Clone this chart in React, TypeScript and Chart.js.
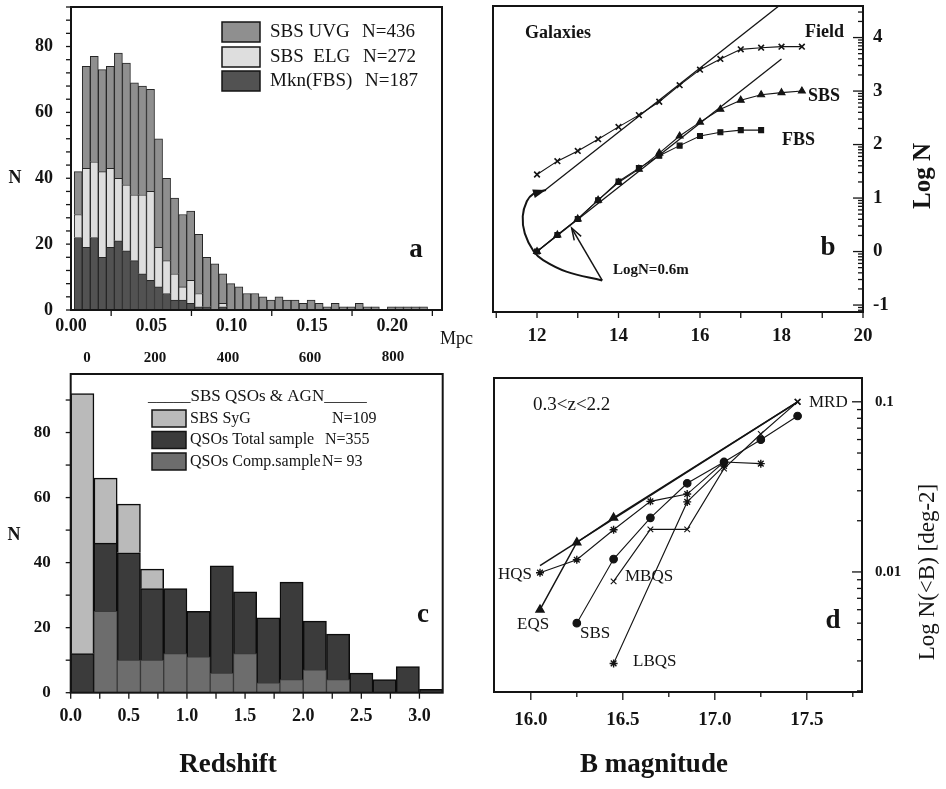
import { useEffect, useRef } from 'react';
import { Chart, registerables } from 'chart.js';

Chart.register(...registerables);

const SERIF = '"Liberation Serif", "Times New Roman", Times, serif';
const INK = '#141414';
Chart.defaults.font.family = SERIF;
Chart.defaults.color = INK;

// ================= Panel a : galaxies vs redshift =================
const zBinsA = [0.0045, 0.0095, 0.0145, 0.0195, 0.0245, 0.0295, 0.0345, 0.0395, 0.0445, 0.0495, 0.0545, 0.0595, 0.0645, 0.0695, 0.0745, 0.0795, 0.0845, 0.0895, 0.0945, 0.0995, 0.1045, 0.1095, 0.1145, 0.1195, 0.1245, 0.1295, 0.1345, 0.1395, 0.1445, 0.1495, 0.1545, 0.1595, 0.1645, 0.1695, 0.1745, 0.1795, 0.1845, 0.1895, 0.1945, 0.1995, 0.2045, 0.2095, 0.2145, 0.2195];
const mknA = [22, 19, 22, 16, 19, 21, 18, 15, 11, 9, 7, 5, 3, 3, 2, 1, 1, 0, 1, 0, 0, 0, 0, 0, 0, 0, 0, 0, 0, 0, 0, 0, 0, 0, 0, 0, 0, 0, 0, 0, 0, 0, 0, 0];
const elgA = [7, 24, 23, 26, 24, 19, 20, 20, 24, 27, 12, 10, 8, 4, 7, 4, 0, 0, 1, 0, 0, 0, 0, 0, 0, 0, 0, 0, 0, 0, 0, 0, 0, 0, 0, 0, 0, 0, 0, 0, 0, 0, 0, 0];
const uvgA = [13, 31, 32, 31, 31, 38, 37, 34, 33, 31, 33, 25, 23, 22, 21, 18, 15, 14, 9, 8, 7, 5, 5, 4, 3, 4, 3, 3, 2, 3, 2, 1, 2, 1, 1, 2, 1, 1, 0, 1, 1, 1, 1, 1];
const zTicksA = [0, 0.05, 0.1, 0.15, 0.2];
const zTickLabelsA = ['0.00', '0.05', '0.10', '0.15', '0.20'];
const nTicksA = [0, 20, 40, 60, 80];
const nTickLabelsA = ['0', '20', '40', '60', '80'];
const mpcLabelsA = ['0', '200', '400', '600', '800'];
const legendNamesA = ['SBS UVG', 'SBS  ELG', 'Mkn(FBS)'];
const legendCountsA = ['N=436', 'N=272', 'N=187'];

// ================= Panel b : galaxy counts =================
const magsB = [12, 12.5, 13, 13.5, 14, 14.5, 15, 15.5, 16, 16.5, 17, 17.5, 18, 18.5];
const fieldLogN = [1.44, 1.69, 1.88, 2.1, 2.33, 2.55, 2.8, 3.11, 3.4, 3.6, 3.78, 3.81, 3.83, 3.83];
const sbsLogN = [0.0, 0.31, 0.61, 0.96, 1.29, 1.54, 1.84, 2.16, 2.42, 2.66, 2.83, 2.93, 2.97, 3.0];
const fbsLogN = [0.0, 0.31, 0.61, 0.96, 1.31, 1.56, 1.79, 1.98, 2.16, 2.23, 2.27, 2.27];
const upperSlopeM = [12.2, 18.0];
const upperSlopeLogN = [1.15, 4.63];
const lowerSlopeM = [12.0, 18.0];
const lowerSlopeLogN = [0.0, 3.6];
const curveArrowM = [13.6, 12.72, 12.15, 11.92, 11.7, 11.65, 11.75, 11.91, 12.22];
const curveArrowLogN = [-0.54, -0.375, -0.16, 0.0, 0.34, 0.66, 0.94, 1.08, 1.15];
const straightArrowM = [13.6, 12.85];
const straightArrowLogN = [-0.54, 0.44];
const magTicksB = [12, 14, 16, 18, 20];
const magTickLabelsB = ['12', '14', '16', '18', '20'];
const logTicksB = [-1, 0, 1, 2, 3, 4];
const logTickLabelsB = ['-1', '0', '1', '2', '3', '4'];

// ================= Panel c : QSOs & AGN vs redshift =================
const zBinsC = [0.1, 0.3, 0.5, 0.7, 0.9, 1.1, 1.3, 1.5, 1.7, 1.9, 2.1, 2.3, 2.5, 2.7, 2.9, 3.1];
const qsoTotalC = [12, 46, 43, 32, 32, 25, 39, 31, 23, 34, 22, 18, 6, 4, 8, 1];
const sygC = [80, 20, 15, 6, 0, 0, 0, 0, 0, 0, 0, 0, 0, 0, 0, 0];
const qsoCompC = [0, 25, 10, 10, 12, 11, 6, 12, 3, 4, 7, 4, 0, 0, 0, 0];
const zTicksC = [0, 0.5, 1, 1.5, 2, 2.5, 3];
const zTickLabelsC = ['0.0', '0.5', '1.0', '1.5', '2.0', '2.5', '3.0'];
const nTicksC = [0, 20, 40, 60, 80];
const nTickLabelsC = ['0', '20', '40', '60', '80'];
const legendTitleC = '_____SBS QSOs & AGN_____';
const legendNamesC = ['SBS SyG', 'QSOs Total sample', 'QSOs Comp.sample'];
const legendCountsC = ['N=109', 'N=355', 'N= 93'];

// ================= Panel d : QSO counts =================
const magsD = [16.05, 16.25, 16.45, 16.65, 16.85, 17.05, 17.25, 17.45];
const hqsD = [0.0099, 0.0118, 0.0177, 0.026, 0.0287, 0.0443, 0.0433, null];
const eqsD = [0.006, 0.0149, 0.0208, null, null, null, null, 0.1];
const sbsD = [null, 0.005, 0.0119, 0.0208, 0.0332, 0.0443, 0.0599, 0.0825];
const mbqsD = [null, null, 0.0088, 0.0178, 0.0178, 0.0405, 0.0647, 0.1];
const lbqsD = [null, null, 0.0029, null, 0.0258, 0.042, null, null];
const mrdD = [0.0109, null, null, null, null, null, null, 0.1];
const magTicksD = [16, 16.5, 17, 17.5];
const magTickLabelsD = ['16.0', '16.5', '17.0', '17.5'];
const densTicksD = [0.01, 0.1];
const densTickLabelsD = ['0.01', '0.1'];

// ================= colours =================
const COL = {
  uvg: '#8f8f8f', elg: '#dedede', mkn: '#525252',
  syg: '#bababa', total: '#3b3b3b', comp: '#6d6d6d',
};

type TextItem = { t: string; x: number; y: number; size: number; bold?: boolean; align?: CanvasTextAlign; rot?: number };
type TickSet = { axis: string; side: 'bottom' | 'left' | 'right'; values: number[]; len: number; inward?: boolean };
type LegendRow = { color: string; name: string; count: string; countX: number };
type Legend = { x: number; w: number; h: number; ys: number[]; textX: number; size: number; rows: LegendRow[]; border: number };
type Arrow = { from: [number, number]; to: [number, number]; len: number; half: number; filled: boolean };
type Decor = { ox: number; oy: number; frame: number; ticks: TickSet[]; texts: TextItem[]; legend?: Legend; arrows?: Arrow[] };

function makeDecor(d: Decor) {
  return {
    id: 'decor',
    afterDraw(chart: any) {
      const { ctx, chartArea: a, scales } = chart;
      ctx.save();
      ctx.strokeStyle = INK;
      ctx.lineWidth = 1.3;
      for (const ts of d.ticks) {
        const s = scales[ts.axis];
        for (const v of ts.values) {
          const p = s.getPixelForValue(v);
          ctx.beginPath();
          if (ts.side === 'bottom') {
            ctx.moveTo(p, a.bottom);
            ctx.lineTo(p, a.bottom + (ts.inward ? -ts.len : ts.len));
          } else if (ts.side === 'left') {
            ctx.moveTo(a.left, p);
            ctx.lineTo(a.left + (ts.inward ? ts.len : -ts.len), p);
          } else {
            ctx.moveTo(a.right, p);
            ctx.lineTo(a.right + (ts.inward ? -ts.len : ts.len), p);
          }
          ctx.stroke();
        }
      }
      ctx.lineWidth = d.frame;
      ctx.strokeRect(a.left, a.top, a.right - a.left, a.bottom - a.top);

      if (d.arrows) {
        for (const ar of d.arrows) {
          const x1 = scales.x.getPixelForValue(ar.from[0]);
          const y1 = scales.y.getPixelForValue(ar.from[1]);
          const x2 = scales.x.getPixelForValue(ar.to[0]);
          const y2 = scales.y.getPixelForValue(ar.to[1]);
          const L = Math.hypot(x2 - x1, y2 - y1) || 1;
          const ux = (x2 - x1) / L, uy = (y2 - y1) / L;
          const bx = x2 - ux * ar.len, by = y2 - uy * ar.len;
          ctx.beginPath();
          ctx.moveTo(bx - uy * ar.half, by + ux * ar.half);
          ctx.lineTo(x2, y2);
          ctx.lineTo(bx + uy * ar.half, by - ux * ar.half);
          if (ar.filled) {
            ctx.closePath();
            ctx.fillStyle = INK;
            ctx.fill();
          } else {
            ctx.lineWidth = 1.5;
            ctx.stroke();
          }
        }
      }

      if (d.legend) {
        const L = d.legend;
        L.rows.forEach((r, i) => {
          const cy = L.ys[i] - d.oy;
          const x = L.x - d.ox;
          ctx.fillStyle = r.color;
          ctx.fillRect(x, cy - L.h / 2, L.w, L.h);
          ctx.lineWidth = L.border;
          ctx.strokeStyle = INK;
          ctx.strokeRect(x, cy - L.h / 2, L.w, L.h);
          ctx.fillStyle = INK;
          ctx.font = `${L.size}px ${SERIF}`;
          ctx.textAlign = 'left';
          ctx.textBaseline = 'middle';
          ctx.fillText(r.name, L.textX - d.ox, cy);
          ctx.fillText(r.count, r.countX - d.ox, cy);
        });
      }

      ctx.fillStyle = INK;
      for (const t of d.texts) {
        ctx.save();
        ctx.font = `${t.bold ? 'bold ' : ''}${t.size}px ${SERIF}`;
        ctx.textAlign = t.align || 'left';
        ctx.textBaseline = 'middle';
        ctx.translate(t.x - d.ox, t.y - d.oy);
        if (t.rot) ctx.rotate(t.rot);
        ctx.fillText(t.t, 0, 0);
        ctx.restore();
      }
      ctx.restore();
    },
  };
}

type AxisArgs = {
  type?: string; position: string; min: number; max: number; ticks: number[]; labels: string[];
  size: number; padding: number; fontSize: number; stacked?: boolean;
};
function axis(o: AxisArgs) {
  return {
    type: o.type || 'linear',
    position: o.position,
    min: o.min,
    max: o.max,
    stacked: o.stacked,
    offset: false,
    grid: { display: false, drawTicks: false },
    border: { display: false },
    afterBuildTicks: (s: any) => {
      s.ticks = o.ticks.map((v) => ({ value: v }));
    },
    afterFit: (s: any) => {
      if (s.isHorizontal()) s.height = o.size;
      else s.width = o.size;
      s.paddingTop = 0; s.paddingBottom = 0; s.paddingLeft = 0; s.paddingRight = 0;
    },
    ticks: {
      autoSkip: false, maxRotation: 0, minRotation: 0, padding: o.padding, color: INK,
      font: { family: SERIF, size: o.fontSize, weight: 'bold' },
      callback: (_v: any, i: number) => o.labels[i],
    },
  };
}

function baseOptions(padding: any, scales: any) {
  return {
    responsive: false,
    animation: false,
    devicePixelRatio: 1,
    events: [],
    layout: { padding },
    plugins: { legend: { display: false }, tooltip: { enabled: false }, title: { display: false } },
    scales,
  };
}

const pts = (xs: number[], ys: (number | null)[]) =>
  xs.map((x, i) => ({ x, y: ys[i] })).filter((p) => p.y !== null && p.y !== undefined);

// ---------- panel a config ----------
const boxA = { left: 0, top: 0, w: 480, h: 372 };
function configA() {
  const mk = (label: string, vals: number[], color: string) => ({
    type: 'bar', label,
    data: zBinsA.map((x, i) => ({ x, y: vals[i] > 0 ? vals[i] : null })),
    backgroundColor: color, borderColor: '#262626', borderWidth: 1,
    grouped: false, barPercentage: 1, categoryPercentage: 1, stack: 'a',
  });
  const yMinor: number[] = [];
  for (let v = 0; v <= 92; v += 4) yMinor.push(v);
  return {
    type: 'bar',
    data: { datasets: [mk('Mkn(FBS)', mknA, COL.mkn), mk('SBS ELG', elgA, COL.elg), mk('SBS UVG', uvgA, COL.uvg)] },
    options: baseOptions({ left: 0, top: 7, right: 38, bottom: 0 }, {
      x: axis({ position: 'bottom', min: 0, max: 0.231, ticks: zTicksA, labels: zTickLabelsA, size: 62, padding: 6, fontSize: 18 }),
      y: axis({ position: 'left', min: 0, max: 92, ticks: nTicksA, labels: nTickLabelsA, size: 71, padding: 18, fontSize: 18, stacked: true }),
    }),
    plugins: [makeDecor({
      ox: boxA.left, oy: boxA.top, frame: 2,
      ticks: [
        { axis: 'x', side: 'bottom', values: [0.025, 0.075, 0.125, 0.175, 0.225], len: 6 },
        { axis: 'y', side: 'left', values: yMinor, len: 5 },
      ],
      legend: {
        x: 222, w: 38, h: 20, ys: [32, 57, 81], textX: 270, size: 19, border: 1.5,
        rows: [
          { color: COL.uvg, name: legendNamesA[0], count: legendCountsA[0], countX: 362 },
          { color: COL.elg, name: legendNamesA[1], count: legendCountsA[1], countX: 363 },
          { color: COL.mkn, name: legendNamesA[2], count: legendCountsA[2], countX: 365 },
        ],
      },
      texts: [
        { t: 'N', x: 15, y: 178, size: 18, bold: true, align: 'center' },
        { t: 'a', x: 416, y: 250, size: 27, bold: true, align: 'center' },
        { t: 'Mpc', x: 440, y: 339, size: 18, align: 'left' },
        { t: mpcLabelsA[0], x: 87, y: 358, size: 15, bold: true, align: 'center' },
        { t: mpcLabelsA[1], x: 155, y: 358, size: 15, bold: true, align: 'center' },
        { t: mpcLabelsA[2], x: 228, y: 358, size: 15, bold: true, align: 'center' },
        { t: mpcLabelsA[3], x: 310, y: 358, size: 15, bold: true, align: 'center' },
        { t: mpcLabelsA[4], x: 393, y: 357, size: 15, bold: true, align: 'center' },
      ],
    })],
  };
}

// ---------- panel b config ----------
const boxB = { left: 470, top: 0, w: 476, h: 372 };
function configB() {
  const line = { borderColor: INK, backgroundColor: INK, borderWidth: 1.1, pointBorderColor: INK, pointBackgroundColor: INK };
  const xMinor: number[] = [];
  for (let v = 11; v <= 20; v += 1) xMinor.push(v);
  const yMinor: number[] = [];
  for (let k = -2; k <= 4; k++) for (let j = 2; j <= 9; j++) {
    const v = k + Math.log10(j);
    if (v > -1.13 && v < 4.59) yMinor.push(v);
  }
  const nC = curveArrowM.length;
  return {
    type: 'line',
    data: {
      datasets: [
        { ...line, label: 'Field', data: pts(magsB, fieldLogN), pointStyle: 'crossRot', pointRadius: 4, pointBorderWidth: 1.6 },
        { ...line, label: 'SBS', data: pts(magsB, sbsLogN), pointStyle: 'triangle', pointRadius: 4 },
        { ...line, label: 'FBS', data: pts(magsB, fbsLogN), pointStyle: 'rect', pointRadius: 3.5 },
        { ...line, label: 'slope upper', data: pts(upperSlopeM, upperSlopeLogN), pointRadius: 0, borderWidth: 1.3 },
        { ...line, label: 'slope lower', data: pts(lowerSlopeM, lowerSlopeLogN), pointRadius: 0, borderWidth: 1.3 },
        { ...line, label: 'curve arrow', data: pts(curveArrowM, curveArrowLogN), tension: 0.4, borderWidth: 2, pointRadius: 0 },
        { ...line, label: 'straight arrow', data: pts(straightArrowM, straightArrowLogN), borderWidth: 1.5, pointRadius: 0 },
      ],
    },
    options: baseOptions({ left: 23, top: 6, right: 0, bottom: 0 }, {
      x: axis({ position: 'bottom', min: 10.92, max: 20, ticks: magTicksB, labels: magTickLabelsB, size: 60, padding: 13, fontSize: 19 }),
      y: axis({ position: 'right', min: -1.13, max: 4.59, ticks: logTicksB, labels: logTickLabelsB, size: 83, padding: 10, fontSize: 19 }),
    }),
    plugins: [makeDecor({
      ox: boxB.left, oy: boxB.top, frame: 2,
      ticks: [
        { axis: 'x', side: 'bottom', values: xMinor, len: 6 },
        { axis: 'y', side: 'right', values: logTicksB, len: 10, inward: true },
        { axis: 'y', side: 'right', values: yMinor, len: 5, inward: true },
      ],
      arrows: [
        { from: [curveArrowM[nC - 2], curveArrowLogN[nC - 2]], to: [curveArrowM[nC - 1], curveArrowLogN[nC - 1]], len: 13, half: 4.5, filled: true },
        { from: [straightArrowM[0], straightArrowLogN[0]], to: [straightArrowM[1], straightArrowLogN[1]], len: 12, half: 4, filled: false },
      ],
      texts: [
        { t: 'Galaxies', x: 525, y: 33, size: 18, bold: true },
        { t: 'Field', x: 805, y: 32, size: 18, bold: true },
        { t: 'SBS', x: 808, y: 96, size: 18, bold: true },
        { t: 'FBS', x: 782, y: 140, size: 18, bold: true },
        { t: 'LogN=0.6m', x: 613, y: 270, size: 15, bold: true },
        { t: 'b', x: 828, y: 248, size: 27, bold: true, align: 'center' },
        { t: 'Log N', x: 924, y: 176, size: 25, bold: true, align: 'center', rot: -Math.PI / 2 },
      ],
    })],
  };
}

// ---------- panel c config ----------
const boxC = { left: 0, top: 372, w: 470, h: 417 };
function configC() {
  const mk = (label: string, vals: number[], color: string, stack: string, order: number, bw: number, bc: string) => ({
    type: 'bar', label,
    data: zBinsC.map((x, i) => ({ x, y: vals[i] > 0 ? vals[i] : null })),
    backgroundColor: color, borderColor: bc, borderWidth: bw,
    grouped: false, barPercentage: 1, categoryPercentage: 1, stack, order,
  });
  const xMinor: number[] = [];
  for (let v = 0; v <= 3.001; v += 0.25) xMinor.push(v);
  const yMinor: number[] = [];
  for (let v = 0; v <= 90; v += 10) yMinor.push(v);
  return {
    type: 'bar',
    data: {
      datasets: [
        mk('QSOs Total sample', qsoTotalC, COL.total, 'main', 2, 1.5, '#0c0c0c'),
        mk('SBS SyG', sygC, COL.syg, 'main', 2, 1.5, '#0c0c0c'),
        mk('QSOs Comp.sample', qsoCompC, COL.comp, 'comp', 1, 1, '#3a3a3a'),
      ],
    },
    options: baseOptions({ left: 0, top: 2, right: 27.3, bottom: 0 }, {
      x: axis({ position: 'bottom', min: 0, max: 3.2, ticks: zTicksC, labels: zTickLabelsC, size: 96.3, padding: 13, fontSize: 18 }),
      y: axis({ position: 'left', min: 0, max: 98, ticks: nTicksC, labels: nTickLabelsC, size: 70.7, padding: 20, fontSize: 17, stacked: true }),
    }),
    plugins: [makeDecor({
      ox: boxC.left, oy: boxC.top, frame: 2,
      ticks: [
        { axis: 'x', side: 'bottom', values: xMinor, len: 6 },
        { axis: 'y', side: 'left', values: yMinor, len: 5 },
      ],
      legend: {
        x: 152, w: 34, h: 17, ys: [418.5, 440, 461.5], textX: 190, size: 16, border: 1.5,
        rows: [
          { color: COL.syg, name: legendNamesC[0], count: legendCountsC[0], countX: 332 },
          { color: COL.total, name: legendNamesC[1], count: legendCountsC[1], countX: 325 },
          { color: COL.comp, name: legendNamesC[2], count: legendCountsC[2], countX: 322 },
        ],
      },
      texts: [
        { t: legendTitleC, x: 148, y: 397, size: 17 },
        { t: 'N', x: 14, y: 535, size: 18, bold: true, align: 'center' },
        { t: 'c', x: 423, y: 615, size: 27, bold: true, align: 'center' },
        { t: 'Redshift', x: 228, y: 765, size: 27, bold: true, align: 'center' },
      ],
    })],
  };
}

// ---------- panel d config ----------
const boxD = { left: 470, top: 372, w: 476, h: 417 };
function configD() {
  const line = { borderColor: INK, backgroundColor: INK, borderWidth: 1.1, pointBorderColor: INK, pointBackgroundColor: INK };
  const nE = pts(magsD, eqsD).length;
  return {
    type: 'line',
    data: {
      datasets: [
        { ...line, label: 'MRD', data: pts(magsD, mrdD), borderWidth: 1.5, pointStyle: 'crossRot', pointBorderWidth: 1.6,
          pointRadius: (c: any) => (c.dataIndex === 0 ? 0 : 4) },
        { ...line, label: 'EQS', data: pts(magsD, eqsD), borderWidth: 1.5, pointStyle: 'triangle',
          pointRadius: (c: any) => (c.dataIndex === nE - 1 ? 0 : 4.5) },
        { ...line, label: 'HQS', data: pts(magsD, hqsD), pointStyle: 'star', pointRadius: 4, pointBorderWidth: 1.4 },
        { ...line, label: 'SBS', data: pts(magsD, sbsD), pointStyle: 'circle', pointRadius: 3.8 },
        { ...line, label: 'MBQS', data: pts(magsD, mbqsD), pointStyle: 'crossRot', pointRadius: 4, pointBorderWidth: 1.1 },
        { ...line, label: 'LBQS', data: pts(magsD, lbqsD), pointStyle: 'star', pointRadius: 4, pointBorderWidth: 1.4 },
      ],
    },
    options: baseOptions({ left: 24, top: 1, right: 0, bottom: 0 }, {
      x: axis({ position: 'bottom', min: 15.8, max: 17.8, ticks: magTicksD, labels: magTickLabelsD, size: 97, padding: 17, fontSize: 19 }),
      y: axis({ type: 'logarithmic', position: 'right', min: 0.00197, max: 0.138, ticks: densTicksD, labels: densTickLabelsD, size: 84, padding: 13, fontSize: 15 }),
    }),
    plugins: [makeDecor({
      ox: boxD.left, oy: boxD.top, frame: 2,
      ticks: [
        { axis: 'x', side: 'bottom', values: magTicksD, len: 8 },
        { axis: 'x', side: 'bottom', values: [16.25, 16.75, 17.25, 17.75], len: 5 },
        { axis: 'y', side: 'right', values: densTicksD, len: 10, inward: true },
        { axis: 'y', side: 'right', values: [0.002, 0.003, 0.004, 0.005, 0.006, 0.007, 0.008, 0.009, 0.02, 0.03, 0.04, 0.05, 0.06, 0.07, 0.08, 0.09], len: 5, inward: true },
      ],
      texts: [
        { t: '0.3<z<2.2', x: 533, y: 405, size: 19 },
        { t: 'HQS', x: 498, y: 575, size: 17 },
        { t: 'EQS', x: 517, y: 625, size: 17 },
        { t: 'SBS', x: 580, y: 634, size: 17 },
        { t: 'MBQS', x: 625, y: 577, size: 17 },
        { t: 'LBQS', x: 633, y: 662, size: 17 },
        { t: 'MRD', x: 809, y: 403, size: 17 },
        { t: 'd', x: 833, y: 621, size: 27, bold: true, align: 'center' },
        { t: 'B magnitude', x: 654, y: 765, size: 27, bold: true, align: 'center' },
        { t: 'Log N(<B) [deg-2]', x: 928, y: 572, size: 23, align: 'center', rot: -Math.PI / 2 },
      ],
    })],
  };
}

function ChartCanvas({ make, box }: { make: () => any; box: { left: number; top: number; w: number; h: number } }) {
  const ref = useRef<HTMLCanvasElement>(null);
  useEffect(() => {
    const chart = new Chart(ref.current as HTMLCanvasElement, make());
    return () => chart.destroy();
  }, []);
  return (
    <canvas
      ref={ref}
      width={box.w}
      height={box.h}
      style={{ position: 'absolute', left: box.left, top: box.top, width: box.w, height: box.h }}
    />
  );
}

export default function App() {
  return (
    <div style={{ position: 'absolute', left: 0, top: 0, width: 946, height: 789, background: '#ffffff', overflow: 'hidden' }}>
      <ChartCanvas make={configA} box={boxA} />
      <ChartCanvas make={configB} box={boxB} />
      <ChartCanvas make={configC} box={boxC} />
      <ChartCanvas make={configD} box={boxD} />
    </div>
  );
}
